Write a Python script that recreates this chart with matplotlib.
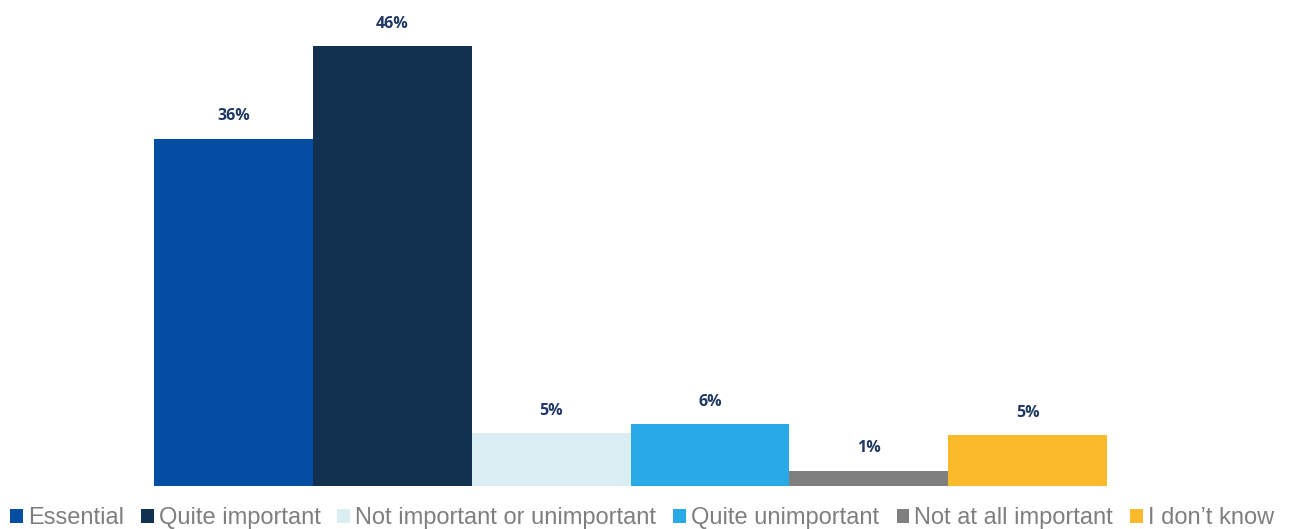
import matplotlib
matplotlib.use("Agg")
import matplotlib.pyplot as plt
from matplotlib.patches import Patch

categories = ["Essential", "Quite important", "Not important or unimportant",
              "Quite unimportant", "Not at all important", "I don\u2019t know"]
values = [36.3, 46.0, 5.5, 6.5, 1.6, 5.3]
labels = ["36%", "46%", "5%", "6%", "1%", "5%"]
colors = ["#034EA2", "#12304F", "#DAEDF3", "#29A9E6", "#7F7F7F", "#FBBA2A"]

fig = plt.figure(figsize=(12.89, 5.29), dpi=100)
ax = fig.add_axes([154/1289, 43/529, (1107-154)/1289, 486/529])
x = list(range(len(categories)))
bars = ax.bar(x, values, width=1.0, color=colors, align="edge")
ax.set_xlim(0, len(categories))
ax.set_ylim(0, 486/9.57)
for b, lab in zip(bars, labels):
    ax.annotate(lab, (b.get_x() + b.get_width()/2, b.get_height()),
                xytext=(0, 16), textcoords="offset points",
                ha="center", va="center", fontsize=11.5, fontweight="bold",
                color="#1F3864", family=["Open Sans", "DejaVu Sans"])
ax.axis("off")

fs = 17
handles = [Patch(facecolor=c, edgecolor="none") for c in colors]
leg = fig.legend(handles, categories, loc="center", bbox_to_anchor=(642/1289, 1 - 518/529),
                 ncol=6, frameon=False, handlelength=0.55, handleheight=0.55,
                 handletextpad=0.21, columnspacing=0.72, borderpad=0, borderaxespad=0,
                 prop={"family": "Liberation Sans", "size": fs})
for t in leg.get_texts():
    t.set_color("#7F7F7F")

fig.savefig("out.png", dpi=100)
